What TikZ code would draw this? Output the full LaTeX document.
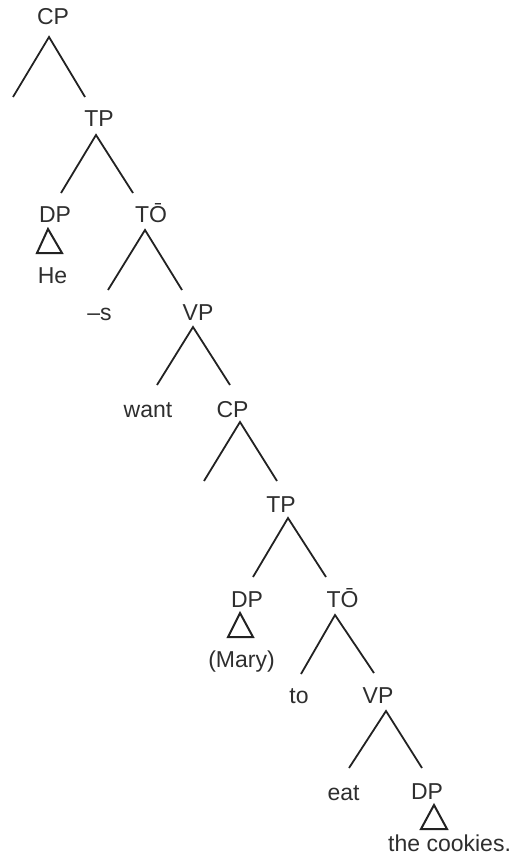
\documentclass[tikz,border=0pt]{standalone}
\usepackage{fontspec}
\setmainfont{Liberation Sans}
\definecolor{txt}{HTML}{2E2E2E}
\definecolor{ln}{HTML}{222222}
\begin{document}
\begin{tikzpicture}[x=1pt,y=-1pt,
  lab/.style={anchor=base,inner sep=0pt,text=txt,font=\fontsize{23}{27}\selectfont},
  branch/.style={draw=ln,line width=1.8pt},
  tri/.style={draw=ln,line width=2pt,line join=miter}]
\useasboundingbox (0,0) rectangle (514,864);
% labels
\node[lab] (cp1) at (53,25) {CP};
\node[lab] (tp1) at (99,127) {TP};
\node[lab] (dp1) at (55,222) {DP};
\node[lab] (he) at (52.5,283) {He};
\node[lab] (tb1) at (151,222) {TŌ};
\node[lab] (s) at (99.5,320) {–s};
\node[lab] (vp1) at (198,320) {VP};
\node[lab] (want) at (148,417) {want};
\node[lab] (cp2) at (232.5,417) {CP};
\node[lab] (tp2) at (281,512) {TP};
\node[lab] (dp2) at (247,607) {DP};
\node[lab] (tb2) at (342.5,607) {TŌ};
\node[lab] (mary) at (241.5,667) {(Mary)};
\node[lab] (to) at (299,703) {to};
\node[lab] (vp2) at (378,703) {VP};
\node[lab] (eat) at (343.5,800) {eat};
\node[lab] (dp3) at (427,799) {DP};
\node[lab,anchor=base west] (cookies) at (388,851) {the cookies.};
% branch points
\coordinate (cp1a) at (49,37);  \coordinate (cp1l) at (13,97);  \coordinate (cp1r) at (85,97);
\coordinate (tp1a) at (96,135); \coordinate (tp1l) at (61,193); \coordinate (tp1r) at (133,193);
\coordinate (tb1a) at (145,230); \coordinate (tb1l) at (108,290); \coordinate (tb1r) at (182,290);
\coordinate (vp1a) at (193,327); \coordinate (vp1l) at (157,385); \coordinate (vp1r) at (230,385);
\coordinate (cp2a) at (240,422); \coordinate (cp2l) at (204,481); \coordinate (cp2r) at (277,481);
\coordinate (tp2a) at (288,518); \coordinate (tp2l) at (253,577); \coordinate (tp2r) at (326,577);
\coordinate (tb2a) at (335,615); \coordinate (tb2l) at (301,674); \coordinate (tb2r) at (374,673);
\coordinate (vp2a) at (386,711); \coordinate (vp2l) at (349,768); \coordinate (vp2r) at (422,768);
\foreach \n in {cp1,tp1,tb1,vp1,cp2,tp2,tb2,vp2}{
  \draw[branch] (\n l) -- (\n a) -- (\n r);
}
% triangles
\draw[tri] (48,229) -- (37,253) -- (62,253) -- cycle;
\draw[tri] (240,613) -- (228,637) -- (253,637) -- cycle;
\draw[tri] (434,805) -- (421,829) -- (447,829) -- cycle;
\end{tikzpicture}
\end{document}
